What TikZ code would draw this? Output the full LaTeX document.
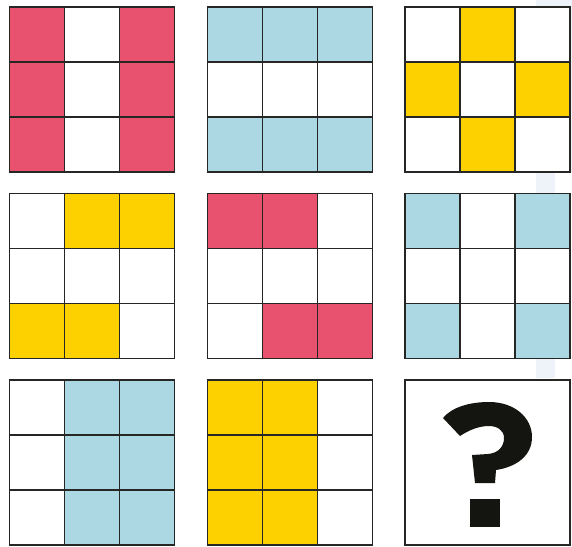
\documentclass[tikz,border=0pt]{standalone}
\usepackage{tikz}

\definecolor{cellpink}{HTML}{E9526F}
\definecolor{cellblue}{HTML}{ABD8E3}
\definecolor{cellyellow}{HTML}{FDD100}
\definecolor{linegray}{HTML}{262624}
\definecolor{markblack}{HTML}{141410}
\definecolor{faintblue}{HTML}{EEF3FA}

\begin{document}
\begin{tikzpicture}[x=1pt,y=-1pt,
    cellline/.style={draw=linegray, line width=1.8pt}]
    \useasboundingbox (0,0) rectangle (572,546);
    % pale band behind the right column
    \fill[faintblue] (536,0) rectangle (555,378);
    \fill[faintblue] (536,0) rectangle (572,172);
    % the eight filled grids: x/y of top left corner, colour, coloured cells
    \foreach \gx/\gy/\shade/\cells in {
        9.5/7/cellpink/{1,3,4,6,7,9},
        207.5/7/cellblue/{1,2,3,7,8,9},
        405/7/cellyellow/{2,4,6,8},
        9.5/193.5/cellyellow/{2,3,7,8},
        207.5/193.5/cellpink/{1,2,8,9},
        405/193.5/cellblue/{1,3,7,9},
        9.5/380/cellblue/{2,3,5,6,8,9},
        207.5/380/cellyellow/{1,2,4,5,7,8}} {
        \fill[white] (\gx,\gy) rectangle ++(165,165);
        \foreach \c in \cells {
            \pgfmathtruncatemacro\crow{(\c-1)/3}
            \pgfmathtruncatemacro\ccol{mod(\c-1,3)}
            \fill[\shade] (\gx+55*\ccol,\gy+55*\crow) rectangle ++(55,55);
        }
        \foreach \k in {1,2} {
            \draw[cellline] (\gx+55*\k,\gy) -- ++(0,165);
            \draw[cellline] (\gx,\gy+55*\k) -- ++(165,0);
        }
        \draw[cellline] (\gx,\gy) rectangle ++(165,165);
    }
    % last box with the question mark
    \filldraw[cellline, fill=white] (405,380) rectangle ++(165,165);
    \fill[markblack] (443,418) .. controls (452,407) and (470,402) .. (489,402)
        .. controls (515,402) and (532,418) .. (532,437)
        .. controls (532,456) and (516,467) .. (496,470)
        -- (495,483) -- (475,483) -- (472,455) -- (488,454)
        .. controls (499,453) and (504,446) .. (504,438)
        .. controls (504,430) and (497,426) .. (489,426)
        .. controls (479,426) and (469,430) .. (460,436) -- cycle;
    \fill[markblack] (469.5,498.5) rectangle (499.5,526.5);
\end{tikzpicture}
\end{document}
